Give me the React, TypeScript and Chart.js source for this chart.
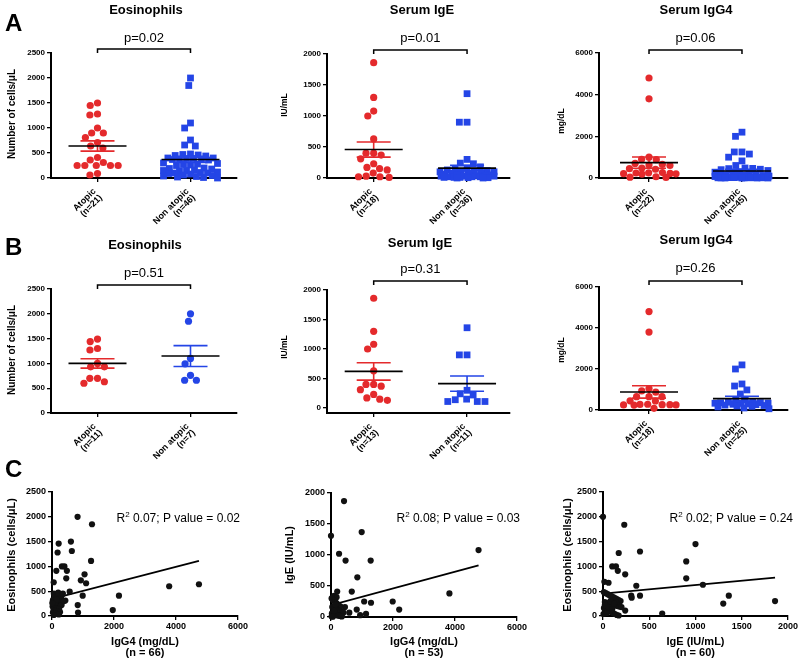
import React, { useEffect, useRef } from 'react';
import { Chart, registerables } from 'chart.js';

Chart.register(...registerables);

const W = 800;
const H = 665;
const FONT = "'Liberation Sans', Arial, Helvetica, sans-serif";
const RED = '#e42a2c';
const BLUE = '#2445e6';
const BLACK = '#000000';

const GROUPS = ['Atopic', 'Non atopic'];

// tick labels
const EOS_TICKS = [0, 500, 1000, 1500, 2000, 2500];
const IGE_TICKS = [0, 500, 1000, 1500, 2000];
const IGG4_TICKS = [0, 2000, 4000, 6000];
const IGG4_X_TICKS = [0, 2000, 4000, 6000];
const IGE_X_TICKS = [0, 500, 1000, 1500, 2000];

// ---------- Panel A ----------
const A_EOS_N = [21, 46];
const A_EOS_ATOPIC = [1500, 1450, 1280, 1260, 1000, 900, 900, 810, 710, 640, 600, 410, 360, 310, 250, 250, 250, 250, 250, 90, 60];
const A_EOS_NON = [2000, 1850, 1100, 1000, 760, 660, 640, 480, 470, 460, 450, 440, 400, 400, 390, 390, 380, 380, 370, 360, 300, 290, 280, 270, 260, 250, 200, 190, 180, 160, 150, 150, 140, 120, 110, 100, 100, 90, 80, 60, 50, 40, 30, 20, 10, 0];
const A_EOS_MEAN = [640, 370];
const A_EOS_SEM = [103, 60];

const A_IGE_N = [18, 36];
const A_IGE_ATOPIC = [1860, 1300, 1080, 1000, 630, 400, 400, 370, 310, 230, 170, 150, 130, 80, 30, 20, 20, 10];
const A_IGE_NON = [1360, 900, 900, 300, 240, 230, 180, 160, 150, 130, 120, 110, 100, 100, 90, 80, 70, 60, 60, 50, 50, 40, 40, 30, 30, 30, 20, 20, 20, 10, 10, 10, 5, 5, 0, 0];
const A_IGE_MEAN = [459, 160];
const A_IGE_SEM = [122, 45];

const A_IGG4_N = [22, 45];
const A_IGG4_ATOPIC = [4800, 3800, 1000, 880, 900, 700, 650, 620, 600, 480, 450, 420, 260, 250, 240, 220, 210, 200, 190, 60, 40, 30];
const A_IGG4_NON = [2200, 2000, 1250, 1250, 1150, 1000, 820, 600, 480, 460, 450, 420, 400, 360, 300, 280, 250, 220, 200, 150, 120, 100, 100, 90, 80, 70, 60, 50, 50, 40, 40, 30, 30, 20, 20, 20, 10, 10, 10, 5, 5, 0, 0, 0, 0];
const A_IGG4_MEAN = [740, 338];
const A_IGG4_SEM = [270, 80];

// ---------- Panel B ----------
const B_EOS_N = [11, 7];
const B_EOS_ATOPIC = [1490, 1440, 1300, 1270, 1000, 930, 930, 700, 700, 630, 600];
const B_EOS_NON = [2000, 1850, 1100, 990, 760, 660, 660];
const B_EOS_MEAN = [1000, 1149];
const B_EOS_SEM = [95, 210];

const B_IGE_N = [13, 11];
const B_IGE_ATOPIC = [1860, 1300, 1080, 1000, 630, 400, 400, 370, 310, 230, 170, 150, 130];
const B_IGE_NON = [1360, 900, 900, 300, 240, 220, 150, 140, 110, 110, 110];
const B_IGE_MEAN = [620, 413];
const B_IGE_SEM = [147, 130];

const B_IGG4_N = [18, 25];
const B_IGG4_ATOPIC = [4800, 3800, 1050, 930, 870, 650, 650, 650, 450, 440, 280, 270, 260, 260, 250, 250, 240, 80];
const B_IGG4_NON = [2200, 2000, 1270, 1170, 980, 780, 490, 480, 400, 380, 360, 350, 340, 330, 320, 300, 280, 260, 240, 220, 200, 180, 150, 100, 60];
const B_IGG4_MEAN = [880, 554];
const B_IGG4_SEM = [300, 120];

// ---------- Panel C ----------
const C1_IGG4 = [825, 1290, 610, 215, 640, 180, 1260, 320, 400, 140, 480, 1050, 460, 930, 1100, 55, 570, 3780, 4740, 990, 2160, 830, 1960, 840, 430, 60, 120, 180, 240, 300, 90, 150, 210, 30, 270, 100, 160, 220, 40, 80, 130, 190, 250, 310, 20, 70, 110, 170, 230, 50, 90, 140, 200, 260, 30, 80, 120, 180, 220, 60, 100, 140, 200, 350, 380, 10];
const C1_EOS = [2000, 1850, 1500, 1460, 1310, 1280, 1110, 1000, 1000, 910, 910, 840, 760, 720, 660, 680, 490, 600, 640, 410, 410, 220, 120, 70, 310, 450, 440, 430, 420, 400, 380, 360, 340, 320, 300, 290, 270, 250, 240, 230, 220, 210, 200, 220, 190, 170, 160, 150, 140, 120, 110, 100, 90, 80, 70, 60, 50, 40, 30, 20, 270, 330, 470, 450, 300, 260];
const C1_FIT_X = [0, 4740];
const C1_FIT_Y = [344, 1110];

const C2_IGG4 = [420, 0, 990, 260, 470, 1280, 4760, 850, 670, 200, 3820, 1070, 1290, 1990, 2200, 830, 590, 1130, 940, 450, 100, 180, 20, 60, 100, 140, 180, 220, 260, 300, 40, 80, 120, 160, 200, 240, 280, 320, 360, 400, 30, 70, 110, 150, 190, 230, 270, 310, 350, 20, 60, 100, 140];
const C2_IGE = [1870, 1310, 1370, 1020, 910, 910, 1080, 640, 410, 410, 380, 250, 230, 250, 120, 120, 70, 50, 30, 160, 340, 320, 300, 280, 260, 240, 220, 200, 180, 170, 160, 150, 140, 130, 120, 110, 100, 90, 80, 70, 60, 50, 40, 35, 30, 25, 20, 15, 10, 10, 5, 100, 200];
const C2_FIT_X = [0, 4760];
const C2_FIT_Y = [190, 833];

const C3_IGE = [0, 230, 400, 170, 1000, 900, 900, 1080, 100, 140, 160, 240, 360, 400, 305, 310, 1300, 1360, 1860, 640, 240, 15, 60, 10, 30, 50, 70, 90, 110, 130, 150, 170, 190, 20, 40, 60, 80, 100, 120, 140, 160, 180, 200, 10, 30, 50, 70, 90, 110, 130, 150, 170, 20, 60, 100, 140, 5, 40, 80, 120];
const C3_EOS = [2000, 1840, 1300, 1270, 1450, 1100, 760, 630, 1000, 1000, 910, 840, 610, 410, 410, 370, 250, 410, 300, 50, 110, 690, 670, 480, 460, 440, 420, 400, 380, 360, 340, 320, 300, 280, 260, 250, 240, 230, 220, 210, 200, 190, 180, 160, 140, 120, 100, 80, 60, 40, 20, 10, 220, 180, 140, 280, 40, 60, 300, 250];
const C3_FIT_X = [0, 1860];
const C3_FIT_Y = [452, 774];

// ---------------------------------------------------------------

type Area = [number, number, number, number]; // l, t, r, b

type GroupCfg = {
  kind: 'group';
  letter?: string;
  letterY?: number;
  area: Area;
  xRange: [number, number];
  yRange: [number, number];
  yTicks: number[];
  title: string;
  titleX: number;
  titleY: number;
  pText: string;
  pY: number;
  bracketY: number;
  yTitle: string;
  yTitleX: number;
  yTitleY: number;
  yTitleSize: number;
  n: number[];
  atopic: number[];
  nonAtopic: number[];
  nonStyle: 'rect' | 'circle';
  mean: number[];
  sem: number[];
};

type CorrCfg = {
  kind: 'corr';
  letter?: string;
  letterY?: number;
  area: Area;
  xRange: [number, number];
  yRange: [number, number];
  xTicks: number[];
  yTicks: number[];
  xs: number[];
  ys: number[];
  fitX: number[];
  fitY: number[];
  yTitle: string;
  yTitleX: number;
  yTitleY: number;
  xTitle: string[];
  stats: string;
  statsRight: number;
  statsY: number;
};

type Cfg = GroupCfg | CorrCfg;

const PANELS: Cfg[] = [
  {
    kind: 'group', letter: 'A', letterY: 31,
    area: [51, 53, 237, 178], xRange: [0.5, 2.5], yRange: [0, 2500], yTicks: EOS_TICKS,
    title: 'Eosinophils', titleX: 146, titleY: 10, pText: 'p=0.02', pY: 38, bracketY: 49,
    yTitle: 'Number of cells/\u03bcL', yTitleX: 12, yTitleY: 114, yTitleSize: 10,
    n: A_EOS_N, atopic: A_EOS_ATOPIC, nonAtopic: A_EOS_NON, nonStyle: 'rect',
    mean: A_EOS_MEAN, sem: A_EOS_SEM,
  },
  {
    kind: 'group',
    area: [327, 54, 510, 178], xRange: [0.5, 2.46], yRange: [0, 2000], yTicks: IGE_TICKS,
    title: 'Serum IgE', titleX: 422, titleY: 10, pText: 'p=0.01', pY: 38, bracketY: 50,
    yTitle: 'IU/mL', yTitleX: 285, yTitleY: 105, yTitleSize: 8.5,
    n: A_IGE_N, atopic: A_IGE_ATOPIC, nonAtopic: A_IGE_NON, nonStyle: 'rect',
    mean: A_IGE_MEAN, sem: A_IGE_SEM,
  },
  {
    kind: 'group',
    area: [599, 53, 788, 178], xRange: [0.462, 2.495], yRange: [0, 6000], yTicks: IGG4_TICKS,
    title: 'Serum IgG4', titleX: 696, titleY: 10, pText: 'p=0.06', pY: 38, bracketY: 50,
    yTitle: 'mg/dL', yTitleX: 562, yTitleY: 121, yTitleSize: 8.5,
    n: A_IGG4_N, atopic: A_IGG4_ATOPIC, nonAtopic: A_IGG4_NON, nonStyle: 'rect',
    mean: A_IGG4_MEAN, sem: A_IGG4_SEM,
  },
  {
    kind: 'group', letter: 'B', letterY: 255,
    area: [51, 289, 237, 413], xRange: [0.5, 2.5], yRange: [0, 2500], yTicks: EOS_TICKS,
    title: 'Eosinophils', titleX: 145, titleY: 245, pText: 'p=0.51', pY: 273, bracketY: 285,
    yTitle: 'Number of cells/\u03bcL', yTitleX: 12, yTitleY: 350, yTitleSize: 10,
    n: B_EOS_N, atopic: B_EOS_ATOPIC, nonAtopic: B_EOS_NON, nonStyle: 'circle',
    mean: B_EOS_MEAN, sem: B_EOS_SEM,
  },
  {
    kind: 'group',
    area: [327, 290, 510, 413], xRange: [0.5, 2.46], yRange: [-85, 2000], yTicks: IGE_TICKS,
    title: 'Serum IgE', titleX: 420, titleY: 243, pText: 'p=0.31', pY: 269, bracketY: 281,
    yTitle: 'IU/mL', yTitleX: 285, yTitleY: 347, yTitleSize: 8.5,
    n: B_IGE_N, atopic: B_IGE_ATOPIC, nonAtopic: B_IGE_NON, nonStyle: 'rect',
    mean: B_IGE_MEAN, sem: B_IGE_SEM,
  },
  {
    kind: 'group',
    area: [599, 287, 788, 410], xRange: [0.462, 2.495], yRange: [0, 6000], yTicks: IGG4_TICKS,
    title: 'Serum IgG4', titleX: 696, titleY: 240, pText: 'p=0.26', pY: 268, bracketY: 281,
    yTitle: 'mg/dL', yTitleX: 562, yTitleY: 350, yTitleSize: 8.5,
    n: B_IGG4_N, atopic: B_IGG4_ATOPIC, nonAtopic: B_IGG4_NON, nonStyle: 'rect',
    mean: B_IGG4_MEAN, sem: B_IGG4_SEM,
  },
  {
    kind: 'corr', letter: 'C', letterY: 477,
    area: [52, 492, 238, 616], xRange: [0, 6000], yRange: [0, 2500], xTicks: IGG4_X_TICKS, yTicks: EOS_TICKS,
    xs: C1_IGG4, ys: C1_EOS, fitX: C1_FIT_X, fitY: C1_FIT_Y,
    yTitle: 'Eosinophils (cells/\u03bcL)', yTitleX: 12, yTitleY: 555,
    xTitle: ['IgG4 (mg/dL)', '(n = 66)'], stats: '0.07; P value = 0.02', statsRight: 240, statsY: 519,
  },
  {
    kind: 'corr',
    area: [331, 493, 517, 617], xRange: [0, 6000], yRange: [0, 2000], xTicks: IGG4_X_TICKS, yTicks: IGE_TICKS,
    xs: C2_IGG4, ys: C2_IGE, fitX: C2_FIT_X, fitY: C2_FIT_Y,
    yTitle: 'IgE (IU/mL)', yTitleX: 290, yTitleY: 555,
    xTitle: ['IgG4 (mg/dL)', '(n = 53)'], stats: '0.08; P value = 0.03', statsRight: 520, statsY: 519,
  },
  {
    kind: 'corr',
    area: [603, 492, 788, 616], xRange: [0, 2000], yRange: [0, 2500], xTicks: IGE_X_TICKS, yTicks: EOS_TICKS,
    xs: C3_IGE, ys: C3_EOS, fitX: C3_FIT_X, fitY: C3_FIT_Y,
    yTitle: 'Eosinophils (cells/\u03bcL)', yTitleX: 568, yTitleY: 555,
    xTitle: ['IgE (IU/mL)', '(n = 60)'], stats: '0.02; P value = 0.24', statsRight: 793, statsY: 519,
  },
];

// Beeswarm layout: returns horizontal pixel offsets for each value
function swarm(values: number[], pxPerY: number, D: number, maxW: number): number[] {
  const idx = values.map((_, i) => i).sort((a, b) => values[b] - values[a]);
  const placed: { x: number; y: number }[] = [];
  const out = new Array(values.length).fill(0);
  for (const i of idx) {
    const y = values[i] * pxPerY;
    const near = placed.filter((p) => Math.abs(p.y - y) < D);
    const intervals: [number, number][] = near.map((p) => {
      const dy = Math.abs(p.y - y);
      const dx = Math.sqrt(D * D - dy * dy);
      return [p.x - dx, p.x + dx];
    });
    const cands = [0];
    intervals.forEach(([a, b]) => cands.push(a, b));
    cands.sort((a, b) => Math.abs(a) - Math.abs(b) || a - b);
    let chosen: number | null = null;
    for (const c of cands) {
      if (Math.abs(c) > maxW) continue;
      if (intervals.every(([a, b]) => c <= a + 1e-6 || c >= b - 1e-6)) {
        chosen = c;
        break;
      }
    }
    if (chosen === null) {
      let best = 0;
      let bestD = -1;
      for (let c = -maxW; c <= maxW; c += 1) {
        let md = Infinity;
        for (const p of near) {
          const d = Math.hypot(p.x - c, p.y - y);
          if (d < md) md = d;
        }
        if (md > bestD + 0.01) {
          bestD = md;
          best = c;
        }
      }
      chosen = best;
    }
    placed.push({ x: chosen, y });
    out[i] = chosen;
  }
  return out;
}

function drawLetter(ctx: CanvasRenderingContext2D, cfg: Cfg) {
  if (!cfg.letter) return;
  ctx.save();
  ctx.fillStyle = BLACK;
  ctx.font = `bold 24px ${FONT}`;
  ctx.textAlign = 'left';
  ctx.textBaseline = 'alphabetic';
  ctx.fillText(cfg.letter, 5, cfg.letterY || 0);
  ctx.restore();
}

function drawYTitle(ctx: CanvasRenderingContext2D, text: string, x: number, y: number, size: number) {
  ctx.save();
  ctx.translate(x, y);
  ctx.rotate(-Math.PI / 2);
  ctx.fillStyle = BLACK;
  ctx.font = `bold ${size}px ${FONT}`;
  ctx.textAlign = 'center';
  ctx.textBaseline = 'middle';
  ctx.fillText(text, 0, 0);
  ctx.restore();
}

function axisCommon(tickValues: number[], area: Area, isX: boolean, tickSize: number, showLabels: boolean, xAxisH: number) {
  return {
    type: 'linear' as const,
    afterBuildTicks: (ax: any) => {
      ax.ticks = tickValues.map((v) => ({ value: v }));
    },
    afterFit: (ax: any) => {
      if (isX) {
        ax.height = xAxisH;
      } else {
        ax.width = area[0];
      }
      ax.paddingLeft = 0;
      ax.paddingRight = 0;
      ax.paddingTop = 0;
      ax.paddingBottom = 0;
    },
    grid: {
      drawOnChartArea: false,
      drawTicks: true,
      tickLength: 4,
      color: BLACK,
      lineWidth: 1.3,
    },
    border: { display: true, color: BLACK, width: 2 },
    ticks: {
      display: showLabels,
      color: BLACK,
      padding: isX ? 1 : 2,
      maxRotation: 0,
      minRotation: 0,
      autoSkip: false,
      callback: (v: number | string) => String(v),
      font: { family: FONT, size: tickSize, weight: 'bold' as const },
    },
  };
}

function buildChart(canvas: HTMLCanvasElement, cfg: Cfg): Chart {
  const [l, t, r, b] = cfg.area;
  const xAxisH = 20;
  const layoutPadding = { left: 0, top: t, right: W - r, bottom: H - b - xAxisH };

  if (cfg.kind === 'group') {
    const pxPerY = (b - t) / (cfg.yRange[1] - cfg.yRange[0]);
    const pxPerX = (r - l) / (cfg.xRange[1] - cfg.xRange[0]);
    const groupsData = [cfg.atopic, cfg.nonAtopic];
    const datasets = groupsData.map((vals, g) => {
      const offs = swarm(vals, pxPerY, 7.7, 27);
      return {
        data: vals.map((v, i) => ({ x: g + 1 + offs[i] / pxPerX, y: v })),
        pointStyle: g === 0 ? 'circle' : cfg.nonStyle,
        pointRadius: g === 0 || cfg.nonStyle === 'circle' ? 3.6 : 4.8,
        backgroundColor: g === 0 ? RED : BLUE,
        borderWidth: 0,
        showLine: false,
        clip: false as any,
      };
    });

    const decor = {
      id: 'decor',
      afterDatasetsDraw(chart: any) {
        const ctx = chart.ctx as CanvasRenderingContext2D;
        const xs = chart.scales.x;
        const ys = chart.scales.y;
        ctx.save();
        [0, 1].forEach((g) => {
          const cx = xs.getPixelForValue(g + 1);
          const m = ys.getPixelForValue(cfg.mean[g]);
          const hi = ys.getPixelForValue(cfg.mean[g] + cfg.sem[g]);
          const lo = ys.getPixelForValue(cfg.mean[g] - cfg.sem[g]);
          ctx.strokeStyle = g === 0 ? RED : BLUE;
          ctx.lineWidth = 1.6;
          ctx.beginPath();
          ctx.moveTo(cx - 17, hi);
          ctx.lineTo(cx + 17, hi);
          ctx.moveTo(cx - 17, lo);
          ctx.lineTo(cx + 17, lo);
          ctx.moveTo(cx, hi);
          ctx.lineTo(cx, lo);
          ctx.stroke();
          ctx.strokeStyle = BLACK;
          ctx.lineWidth = 1.6;
          ctx.beginPath();
          ctx.moveTo(cx - 29, m);
          ctx.lineTo(cx + 29, m);
          ctx.stroke();
        });
        ctx.restore();
      },
      afterDraw(chart: any) {
        const ctx = chart.ctx as CanvasRenderingContext2D;
        const xs = chart.scales.x;
        const area = chart.chartArea;
        ctx.save();
        ctx.fillStyle = BLACK;
        ctx.textAlign = 'center';
        ctx.textBaseline = 'middle';
        ctx.font = `bold 13px ${FONT}`;
        ctx.fillText(cfg.title, cfg.titleX, cfg.titleY);
        const x1 = xs.getPixelForValue(1);
        const x2 = xs.getPixelForValue(2);
        ctx.font = `13px ${FONT}`;
        ctx.fillText(cfg.pText, (x1 + x2) / 2, cfg.pY);
        ctx.strokeStyle = BLACK;
        ctx.lineWidth = 1.5;
        ctx.beginPath();
        ctx.moveTo(x1, cfg.bracketY + 4);
        ctx.lineTo(x1, cfg.bracketY);
        ctx.lineTo(x2, cfg.bracketY);
        ctx.lineTo(x2, cfg.bracketY + 4);
        ctx.stroke();
        // category labels
        ctx.font = `bold 9px ${FONT}`;
        [0, 1].forEach((g) => {
          const cx = xs.getPixelForValue(g + 1);
          ctx.save();
          ctx.translate(cx - 3, area.bottom + 12);
          ctx.rotate(-Math.PI / 4);
          ctx.textAlign = 'right';
          ctx.textBaseline = 'middle';
          ctx.fillText(GROUPS[g], 0, 0);
          ctx.fillText(`(n=${cfg.n[g]})`, 0, 9);
          ctx.restore();
        });
        ctx.restore();
        drawYTitle(ctx, cfg.yTitle, cfg.yTitleX, cfg.yTitleY, cfg.yTitleSize);
        drawLetter(ctx, cfg);
      },
    };

    return new Chart(canvas, {
      type: 'scatter',
      data: { datasets: datasets as any },
      options: {
        animation: false,
        responsive: false,
        maintainAspectRatio: false,
        events: [],
        layout: { padding: layoutPadding },
        plugins: { legend: { display: false }, tooltip: { enabled: false }, title: { display: false } },
        scales: {
          x: { ...axisCommon([1, 2], cfg.area, true, 8, false, xAxisH), min: cfg.xRange[0], max: cfg.xRange[1] } as any,
          y: { ...axisCommon(cfg.yTicks, cfg.area, false, 8, true, xAxisH), min: cfg.yRange[0], max: cfg.yRange[1] } as any,
        },
      },
      plugins: [decor],
    });
  }

  // correlation panel
  const decor = {
    id: 'decor',
    afterDraw(chart: any) {
      const ctx = chart.ctx as CanvasRenderingContext2D;
      const area = chart.chartArea;
      ctx.save();
      ctx.fillStyle = BLACK;
      ctx.textBaseline = 'middle';
      ctx.textAlign = 'left';
      ctx.font = `12px ${FONT}`;
      const wR = ctx.measureText('R').width;
      const main = ' ' + cfg.stats;
      const wM = ctx.measureText(main).width;
      ctx.font = `8px ${FONT}`;
      const w2 = ctx.measureText('2').width;
      let x = cfg.statsRight - (wR + w2 + wM);
      ctx.font = `12px ${FONT}`;
      ctx.fillText('R', x, cfg.statsY);
      x += wR;
      ctx.font = `8px ${FONT}`;
      ctx.fillText('2', x, cfg.statsY - 4);
      x += w2;
      ctx.font = `12px ${FONT}`;
      ctx.fillText(main, x, cfg.statsY);
      // x title
      ctx.textAlign = 'center';
      ctx.font = `bold 11px ${FONT}`;
      const cx = (area.left + area.right) / 2;
      ctx.fillText(cfg.xTitle[0], cx, 642);
      ctx.fillText(cfg.xTitle[1], cx, 653);
      ctx.restore();
      drawYTitle(ctx, cfg.yTitle, cfg.yTitleX, cfg.yTitleY, 11);
      drawLetter(ctx, cfg);
    },
  };

  return new Chart(canvas, {
    type: 'scatter',
    data: {
      datasets: [
        {
          data: cfg.xs.map((v, i) => ({ x: v, y: cfg.ys[i] })),
          pointStyle: 'circle',
          pointRadius: 3.1,
          backgroundColor: '#111111',
          borderWidth: 0,
          showLine: false,
          clip: false as any,
        },
        {
          type: 'line',
          data: cfg.fitX.map((v, i) => ({ x: v, y: cfg.fitY[i] })),
          borderColor: BLACK,
          borderWidth: 1.8,
          pointRadius: 0,
          showLine: true,
          fill: false,
        } as any,
      ],
    },
    options: {
      animation: false,
      responsive: false,
      maintainAspectRatio: false,
      events: [],
      layout: { padding: layoutPadding },
      plugins: { legend: { display: false }, tooltip: { enabled: false }, title: { display: false } },
      scales: {
        x: { ...axisCommon(cfg.xTicks, cfg.area, true, 9, true, xAxisH), min: cfg.xRange[0], max: cfg.xRange[1] } as any,
        y: { ...axisCommon(cfg.yTicks, cfg.area, false, 9, true, xAxisH), min: cfg.yRange[0], max: cfg.yRange[1] } as any,
      },
    },
    plugins: [decor],
  });
}

function Panel({ cfg }: { cfg: Cfg }) {
  const ref = useRef<HTMLCanvasElement | null>(null);
  useEffect(() => {
    if (!ref.current) return;
    const chart = buildChart(ref.current, cfg);
    return () => chart.destroy();
  }, [cfg]);
  return (
    <canvas
      ref={ref}
      width={W}
      height={H}
      style={{ position: 'absolute', left: 0, top: 0, width: W, height: H }}
    />
  );
}

export default function App() {
  return (
    <div style={{ position: 'absolute', left: 0, top: 0, width: W, height: H, background: '#ffffff' }}>
      {PANELS.map((p, i) => (
        <Panel key={i} cfg={p} />
      ))}
    </div>
  );
}
